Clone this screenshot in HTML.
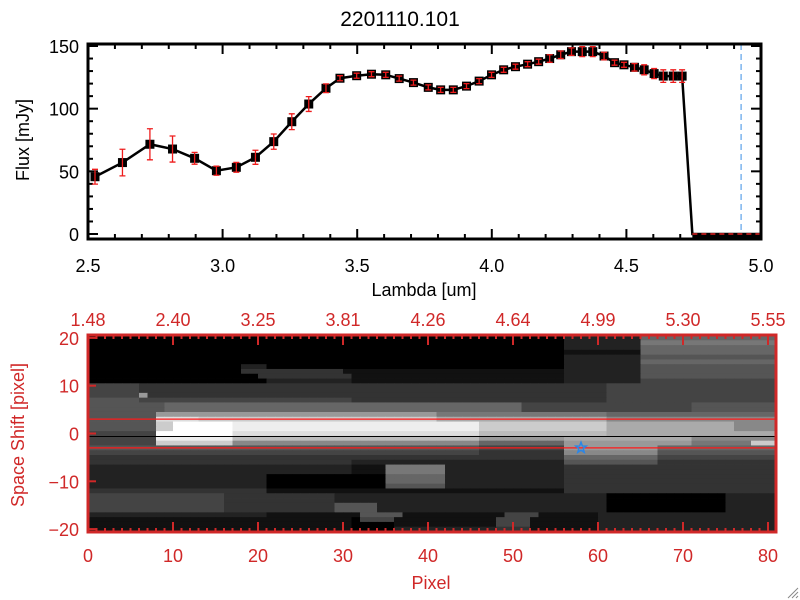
<!DOCTYPE html>
<html><head><meta charset="utf-8">
<style>
html,body{margin:0;padding:0;background:#fff;}
svg{display:block;font-family:"Liberation Sans",sans-serif;}
</style></head>
<body>
<svg id="c" width="800" height="600" viewBox="0 0 800 600" xmlns="http://www.w3.org/2000/svg">
<text x="400" y="26" font-size="21" text-anchor="middle">2201110.101</text>
</svg>
<script>
const lambdas=[2.526,2.628,2.73,2.814,2.896,2.977,3.051,3.122,3.19,3.257,3.32,3.384,3.436,3.498,3.553,3.606,3.656,3.709,3.764,3.810,3.857,3.906,3.953,3.999,4.044,4.088,4.133,4.174,4.215,4.256,4.296,4.336,4.375,4.417,4.456,4.491,4.530,4.566,4.603,4.637,4.674,4.707];
const flux=[45.7,57,71.6,67.8,60.4,50.5,53.2,61.2,73.7,89.6,103.7,116.3,124.3,126.3,127.5,127,124,120.8,117,115,115,118,122,127,131,133.5,135.5,137.5,140,143,145.5,145.5,145.5,142,136.7,135,133,131,128,126,126,126];
const fluxErr=[5.9,10.6,12.4,10.4,4.7,3.6,3.9,5.6,6.1,6.3,5.9,3.5,2,2,2,2,2,2,2,2,2,2,2,2,2,2,2,2,3,3,3,4,4,3,2,2,3,4,4,5,5,5];
const dropLambda=[4.745,5.0];
const cutLambda=4.926;
const xTicksTop=[2.5,3.0,3.5,4.0,4.5,5.0];
const yTicksTop=[0,50,100,150];
const topAxisLabels=["1.48","2.40","3.25","3.81","4.26","4.64","4.99","5.30","5.55"];
const pixTicks=[0,10,20,30,40,50,60,70,80];
const shiftTicks=[20,10,0,-10,-20];
const starPos=[58,-3];
const imgRows=[
"0:56,2:9,6:16","0:56,2:9,7:16","0:56,2:9,6:16","0:56,1:9,6:16","0:56,2:9,5:16","0:56,2:9,6:16",
"0:18,2:3,0:35,2:9,5:16","0:18,3:12,1:26,2:9,5:16","0:20,3:11,1:25,2:9,5:16","0:21,2:10,1:25,2:9,4:16",
"4:6,3:25,3:30,4:20","4:6,3:1,3:24,3:30,4:20","4:6,9:1,3:24,3:30,4:20","5:6,4:25,3:30,4:20",
"5:9,6:42,4:20,5:10","5:9,6:42,4:20,5:10",
"5:8,9:33,7:20,6:20","5:8,13:5,12:28,10:20,8:20","5:8,12:2,15:7,14:29,12:15,10:15,8:5","5:8,12:2,15:7,14:29,12:15,10:15,8:5",
"4:8,15:9,13:29,11:15,10:15,10:5","4:8,14:9,11:29,9:10,10:15,8:10","4:8,12:9,8:29,6:10,9:15,7:7,12:3",
"5:46,4:10,9:11,6:14","4:46,3:10,8:11,5:14","3:46,3:10,6:11,4:14","3:31,2:25,5:11,3:14",
"2:31,1:4,7:7,2:14,3:25","2:31,1:4,7:7,2:14,3:25","2:21,0:14,6:7,2:14,3:25","2:21,0:14,6:7,2:14,3:25","2:21,0:14,5:7,2:14,3:25",
"3:21,1:35,3:25","4:16,3:13,2:32,0:14,2:6","4:16,3:13,2:32,0:14,2:6","4:16,3:13,5:5,2:27,0:14,2:6","4:16,3:13,5:5,2:27,0:14,2:6",
"2:21,1:11,5:5,1:12,4:4,1:7,2:21","1:31,0:1,4:4,1:12,4:4,1:8,2:21","1:31,0:5,1:12,4:4,1:8,2:21","1:31,0:5,2:12,3:4,1:8,2:21"
];
const NS="http://www.w3.org/2000/svg";
const svg=document.getElementById('c');
function mk(tag,attrs,parent){const e=document.createElementNS(NS,tag);for(const k in attrs)e.setAttribute(k,attrs[k]);(parent||svg).appendChild(e);return e;}
const TL=88,TR=761,TT=44,TB=239;
const xT=v=>TL+(v-2.5)/2.5*(TR-TL);
const yT=v=>234-v*1.2533;
const gTop=mk('g',{});


for(let v=2.5;v<=5.001;v+=0.1){const x=xT(v);const maj=Math.abs(v*2-Math.round(v*2))<1e-6;const L=maj?10:5;
 mk('line',{x1:x,y1:TB,x2:x,y2:TB-L,stroke:'#000','stroke-width':2},gTop);mk('line',{x1:x,y1:TT,x2:x,y2:TT+L,stroke:'#000','stroke-width':2},gTop);}
for(let v=0;v<=150;v+=10){const y=yT(v);const L=v%50===0?10:5;
 mk('line',{x1:TL,y1:y,x2:TL+L,y2:y,stroke:'#000','stroke-width':2},gTop);mk('line',{x1:TR,y1:y,x2:TR-L,y2:y,stroke:'#000','stroke-width':2},gTop);}
xTicksTop.forEach(v=>{const t=mk('text',{x:xT(v),y:272,'font-size':18,'text-anchor':'middle'},gTop);t.textContent=v.toFixed(1);
 });
yTicksTop.forEach(v=>{const t=mk('text',{x:79,y:yT(v)+7,'font-size':18,'text-anchor':'end'},gTop);t.textContent=String(v);
 });
const xl=mk('text',{x:424,y:296,'font-size':18,'text-anchor':'middle'},gTop);xl.textContent='Lambda [um]';

const yl=mk('text',{x:0,y:0,'font-size':18,'text-anchor':'middle',transform:'translate(29,140) rotate(-90)'},gTop);yl.textContent='Flux [mJy]';

const cl=mk('line',{x1:xT(cutLambda),y1:TT,x2:xT(cutLambda),y2:TB,stroke:'#3a8ee6','stroke-width':1,'stroke-dasharray':'6,4'},gTop);

let pts=lambdas.map((l,i)=>xT(l)+','+yT(flux[i]));
pts.push(xT(dropLambda[0])+','+yT(0));pts.push(xT(dropLambda[1])+','+yT(0));
const pl=mk('polyline',{points:pts.join(' '),fill:'none',stroke:'#000','stroke-width':2.5},gTop);

mk('line',{x1:xT(dropLambda[0]),y1:yT(0)+2,x2:TR,y2:yT(0)+2,stroke:'#000','stroke-width':5},gTop);
const rz=mk('line',{x1:xT(dropLambda[0]),y1:yT(0),x2:TR,y2:yT(0),stroke:'#e02020','stroke-width':1.5,'stroke-dasharray':'5,4'},gTop);

lambdas.forEach((l,i)=>{const x=xT(l),y=yT(flux[i]);
 const s=mk('rect',{x:x-4.5,y:y-4.5,width:9,height:9,fill:'#000'},gTop);
 
 const y1=yT(flux[i]+fluxErr[i]),y2=yT(flux[i]-fluxErr[i]);
 const eb=mk('path',{d:`M${x},${y1}V${y2}M${x-3},${y1}H${x+3}M${x-3},${y2}H${x+3}`,stroke:'#ee1c1c','stroke-width':1.3,fill:'none'},gTop);
 });
mk('rect',{x:TL,y:TT,width:TR-TL,height:TB-TT,fill:'none',stroke:'#000','stroke-width':3},gTop);
const BL=88,BR=776,BT=335,BB=532,CW=8.5;
const xB=p=>BL+p*CW;
const yB=s=>433.5-s*4.78;
const RED='#d02828';
const gBot=mk('g',{});


const gImg=mk('g',{},gBot);


imgRows.forEach((row,ri)=>{let col=0;const s=20-ri;
 row.split(',').forEach(seg=>{const [lv,n]=seg.split(':').map(Number);
  for(let k=0;k<n;k++){const g=lv*17;
   const c=mk('rect',{x:xB(col),y:yB(s+0.5),width:CW+0.4,height:4.78+0.4,fill:`rgb(${g},${g},${g})`},gImg);
   col++;}});});
[3,-3].forEach(s=>{const l=mk('line',{x1:BL,y1:yB(s),x2:BR,y2:yB(s),stroke:'#ff1a1a','stroke-width':1.2},gBot);
 });
const c0=mk('line',{x1:BL,y1:yB(0)+3,x2:BR,y2:yB(0)+3,stroke:'#000','stroke-width':1},gBot);

const sx=xB(starPos[0]),sy=yB(starPos[1]);let sp=[];
for(let k=0;k<10;k++){const r=k%2?2.3:5.5,a=-Math.PI/2+k*Math.PI/5;sp.push((sx+r*Math.cos(a)).toFixed(1)+','+(sy+r*Math.sin(a)).toFixed(1));}
const st=mk('polygon',{points:sp.join(' '),fill:'none',stroke:'#2a86e8','stroke-width':1.5},gBot);

for(let p=0;p<=81;p++){const x=xB(p);const L=p%10===0?10:4;
 mk('line',{x1:x,y1:BB,x2:x,y2:BB-L,stroke:RED,'stroke-width':2},gBot);mk('line',{x1:x,y1:BT,x2:x,y2:BT+L,stroke:RED,'stroke-width':2},gBot);}
shiftTicks.forEach(s=>{mk('line',{x1:BL,y1:yB(s),x2:BL+8,y2:yB(s),stroke:RED,'stroke-width':2},gBot);
 const t=mk('text',{x:79,y:yB(s)+7,'font-size':18,'text-anchor':'end',fill:RED},gBot);t.textContent=s<0?'\u2212'+(-s):String(s);
 });
pixTicks.forEach((p,i)=>{const t=mk('text',{x:xB(p),y:562,'font-size':18,'text-anchor':'middle',fill:RED},gBot);t.textContent=String(p);
 
 const u=mk('text',{x:xB(p),y:326,'font-size':18,'text-anchor':'middle',fill:RED},gBot);u.textContent=topAxisLabels[i];
 });
const px=mk('text',{x:431,y:589,'font-size':18,'text-anchor':'middle',fill:RED},gBot);px.textContent='Pixel';

const ss=mk('text',{x:0,y:0,'font-size':18,'text-anchor':'middle',fill:RED,transform:'translate(24,435) rotate(-90)'},gBot);ss.textContent='Space Shift [pixel]';

mk('rect',{x:BL,y:BT,width:BR-BL,height:BB-BT,fill:'none',stroke:RED,'stroke-width':3},gBot);
const grip=mk('path',{d:'M798,588L788,598M798,592L792,598M798,596L796,598',stroke:'#888','stroke-width':1},svg);

</script>
</body></html>
